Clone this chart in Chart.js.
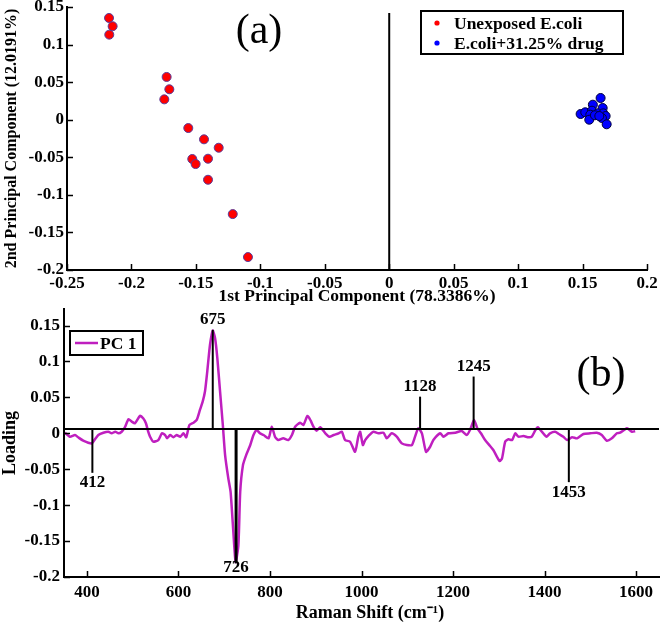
<!DOCTYPE html>
<html><head><meta charset="utf-8">
<script src="https://cdn.jsdelivr.net/npm/chart.js@4"></script>
<style>
html,body{margin:0;padding:0;background:#fff;width:661px;height:625px;overflow:hidden}
canvas{position:absolute;left:0}
#ca{top:0}
#cb{top:300px}
</style></head><body>
<canvas id="ca" width="661" height="305"></canvas>
<canvas id="cb" width="661" height="325"></canvas>
<script>
// ---------- data: panel (a) PCA scores ----------
const seriesNames = ['Unexposed E.coli', 'E.coli+31.25% drug'];
const unexposedPC1 = [-0.2174, -0.2146, -0.2172, -0.1727, -0.1706, -0.1745, -0.1559, -0.1437, -0.1323, -0.1528, -0.1406, -0.1502, -0.1406, -0.1214, -0.1096];
const unexposedPC2 = [0.1354, 0.1244, 0.1132, 0.0569, 0.0405, 0.0271, -0.0111, -0.0261, -0.0373, -0.0523, -0.0519, -0.0590, -0.0799, -0.1256, -0.1828];
const drugPC1 = [0.1640, 0.1580, 0.1656, 0.1485, 0.1521, 0.1573, 0.1560, 0.1617, 0.1661, 0.1679, 0.1650, 0.1552, 0.1687, 0.1596, 0.1630];
const drugPC2 = [0.0289, 0.0200, 0.0156, 0.0076, 0.0099, 0.0120, 0.0067, 0.0085, 0.0085, 0.0049, 0.0023, 0.0000, -0.0061, 0.0059, 0.0049];
const pcaXTicks = [-0.25, -0.2, -0.15, -0.1, -0.05, 0, 0.05, 0.1, 0.15, 0.2];
const pcaYTicks = [-0.2, -0.15, -0.1, -0.05, 0, 0.05, 0.1, 0.15];

// ---------- data: panel (b) PC1 loading ----------
const loadingName = 'PC 1';
const ramanShift = [352,363,374,381,392,403,411,418,425,436,447,454,462,469,476,483,491,498,505,516,523,529,534,538,545,556,564,571,575,582,589,596,604,611,617,624,633,640,647,653,658,663,669,675,680,685,691,697,702,709,714,720,725,731,735,741,748,757,764,771,778,786,797,804,811,818,829,840,848,855,866,873,882,889,895,902,910,921,930,939,950,957,964,975,986,993,997,1003,1008,1015,1026,1037,1048,1055,1066,1077,1088,1099,1110,1117,1124,1132,1141,1150,1157,1172,1179,1190,1205,1219,1230,1237,1246,1253,1261,1270,1281,1288,1296,1302,1307,1314,1321,1329,1336,1343,1354,1365,1372,1380,1385,1394,1404,1412,1423,1431,1441,1449,1460,1471,1485,1500,1514,1525,1536,1547,1558,1565,1580,1591,1598];
const pc1Loading = [0.0008,-0.0047,-0.0024,-0.0056,-0.0103,-0.0131,-0.0140,-0.0080,-0.0024,0.0008,0.0022,0.0000,0.0022,0.0000,0.0022,0.0084,0.0196,0.0162,0.0140,0.0242,0.0210,0.0140,0.0022,-0.0047,-0.0117,-0.0094,0.0000,-0.0024,-0.0070,-0.0024,-0.0056,-0.0024,-0.0047,0.0000,-0.0056,0.0116,0.0148,0.0186,0.0325,0.0441,0.0581,0.0860,0.1233,0.1429,0.1327,0.1047,0.0581,0.0116,-0.0303,-0.0628,-0.0816,-0.1374,-0.1793,-0.1560,-0.0816,-0.0443,-0.0303,-0.0163,-0.0024,0.0046,0.0000,-0.0024,-0.0070,0.0092,-0.0047,-0.0094,-0.0070,-0.0094,-0.0024,0.0092,0.0148,0.0116,0.0242,0.0176,0.0092,0.0036,0.0084,0.0000,-0.0047,-0.0024,0.0000,0.0022,-0.0094,-0.0117,-0.0257,-0.0047,0.0022,-0.0163,-0.0094,-0.0038,0.0022,0.0000,0.0008,-0.0070,0.0000,-0.0047,-0.0140,-0.0163,-0.0163,-0.0047,0.0070,0.0000,-0.0257,-0.0187,-0.0094,0.0000,-0.0047,0.0000,0.0008,0.0032,-0.0024,0.0046,0.0186,0.0070,0.0000,-0.0094,-0.0177,-0.0233,-0.0327,-0.0387,-0.0349,-0.0117,-0.0084,-0.0094,0.0000,-0.0047,-0.0038,-0.0056,-0.0047,0.0046,0.0084,0.0022,-0.0047,0.0000,0.0022,-0.0010,-0.0047,-0.0094,-0.0056,-0.0070,-0.0010,0.0000,0.0008,-0.0024,-0.0103,-0.0070,0.0000,0.0008,0.0070,0.0022,0.0030];
const loadingXTicks = [400, 600, 800, 1000, 1200, 1400, 1600];
const loadingYTicks = [-0.2, -0.15, -0.1, -0.05, 0, 0.05, 0.1, 0.15];
const peakShifts = [412, 675, 726, 1128, 1245, 1453];
const peakLineEnds = [-0.055, 0.144, -0.181, 0.051, 0.079, -0.068];
const loadingBaseline = 0.006;

// ---------- common ----------
const SERIF = "'Liberation Serif', 'Times New Roman', serif";
Chart.defaults.font.family = SERIF;
Chart.defaults.color = '#000';
const MAGENTA = '#bf1fbf';
const fmt = v => String(+(+v).toFixed(2));

function makeTicks(arr) { return s => { s.ticks = arr.map(v => ({value: v})); }; }

const inwardTicks = {
  id: 'inwardTicks',
  afterDraw(chart) {
    const {ctx, chartArea: a, scales: {x, y}} = chart;
    ctx.save();
    ctx.strokeStyle = '#000'; ctx.lineWidth = 1.5;
    ctx.beginPath();
    x.ticks.forEach(t => { const p = Math.round(x.getPixelForValue(t.value)) + 0.5; ctx.moveTo(p, a.bottom); ctx.lineTo(p, a.bottom - 6); });
    y.ticks.forEach(t => { const p = Math.round(y.getPixelForValue(t.value)) + 0.5; ctx.moveTo(a.left, p); ctx.lineTo(a.left + 6, p); });
    ctx.stroke();
    ctx.restore();
  }
};

function axisCommon(tickArr, fitFn) {
  return {
    afterBuildTicks: makeTicks(tickArr),
    grid: {display: false, drawTicks: false},
    border: {display: true, color: '#000', width: 2},
    ticks: {font: {size: 17, weight: 'bold'}, color: '#000', autoSkip: false, maxRotation: 0, minRotation: 0, callback: fmt},
    afterFit: fitFn
  };
}

// ---------- panel (a) ----------
const panelA = {
  id: 'panelA',
  beforeDatasetsDraw(chart) {
    const {ctx, chartArea: a, scales: {x, y}} = chart;
    const px = x.getPixelForValue(0);
    ctx.save();
    ctx.strokeStyle = '#000'; ctx.lineWidth = 2;
    ctx.beginPath(); ctx.moveTo(px, y.getPixelForValue(0.142)); ctx.lineTo(px, a.bottom); ctx.stroke();
    ctx.restore();
  },
  afterDraw(chart) {
    const ctx = chart.ctx;
    ctx.save();
    ctx.font = '42px ' + SERIF; ctx.fillStyle = '#000';
    ctx.textAlign = 'center'; ctx.textBaseline = 'middle';
    ctx.fillText('(a)', 259, 32);
    ctx.fillStyle = '#fff'; ctx.fillRect(421, 11, 202, 43);
    ctx.strokeStyle = '#000'; ctx.lineWidth = 2; ctx.strokeRect(421, 11, 202, 43);
    const ds = chart.data.datasets;
    [23, 43].forEach((yy, i) => {
      ctx.beginPath(); ctx.arc(437, yy, 2.6, 0, Math.PI * 2);
      ctx.fillStyle = ds[i].backgroundColor; ctx.fill();
      ctx.fillStyle = '#000'; ctx.font = 'bold 17.5px ' + SERIF;
      ctx.textAlign = 'left'; ctx.textBaseline = 'middle';
      ctx.fillText(ds[i].label, 454, yy + 1);
    });
    ctx.restore();
  }
};

new Chart(document.getElementById('ca'), {
  type: 'scatter',
  data: {
    datasets: [
      {label: seriesNames[0], data: unexposedPC1.map((v, i) => ({x: v, y: unexposedPC2[i]})), backgroundColor: '#ff0000', borderColor: '#5a3c9a', borderWidth: 1, pointRadius: 4.5, pointHoverRadius: 4.5},
      {label: seriesNames[1], data: drugPC1.map((v, i) => ({x: v, y: drugPC2[i]})), backgroundColor: '#0000ff', borderColor: '#00003a', borderWidth: 1, pointRadius: 4.5, pointHoverRadius: 4.5}
    ]
  },
  options: {
    responsive: false, animation: false,
    layout: {padding: {top: 7, right: 14, left: 0, bottom: 0}},
    plugins: {legend: {display: false}, tooltip: {enabled: false}},
    scales: {
      x: Object.assign(axisCommon(pcaXTicks, s => { s.height = 35; s.paddingLeft = 0; s.paddingRight = 0; }), {
        type: 'linear', min: -0.25, max: 0.2,
        title: {display: true, text: '1st Principal Component (78.3386%)', font: {size: 17.5, weight: 'bold', lineHeight: 1}, padding: {top: 0, bottom: 0}, color: '#000'}
      }),
      y: Object.assign(axisCommon(pcaYTicks, s => { s.width = 67; s.paddingTop = 0; s.paddingBottom = 0; }), {
        type: 'linear', min: -0.2, max: 0.15,
        title: {display: true, text: '2nd Principal Component (12.0191%)', font: {size: 16, weight: 'bold', lineHeight: 1}, padding: {top: 4, bottom: 0}, color: '#000'}
      })
    }
  },
  plugins: [panelA, inwardTicks]
});

// ---------- panel (b) ----------
const panelB = {
  id: 'panelB',
  afterDatasetsDraw(chart) {
    const {ctx, chartArea: a, scales: {x, y}} = chart;
    ctx.save();
    ctx.strokeStyle = '#000'; ctx.lineWidth = 2;
    const y0 = y.getPixelForValue(loadingBaseline);
    ctx.beginPath(); ctx.moveTo(a.left, y0); ctx.lineTo(a.right, y0); ctx.stroke();
    ctx.font = 'bold 17px ' + SERIF; ctx.fillStyle = '#000';
    ctx.textAlign = 'center'; ctx.textBaseline = 'middle';
    peakShifts.forEach((s, i) => {
      const px = x.getPixelForValue(s);
      const pe = y.getPixelForValue(peakLineEnds[i]);
      ctx.lineWidth = (i === 2) ? 3 : 2;
      ctx.beginPath(); ctx.moveTo(px, y0); ctx.lineTo(px, pe); ctx.stroke();
      let ly = peakLineEnds[i] > 0 ? pe - 10 : Math.min(pe + 10, a.bottom - 9);
      ctx.fillText(String(s), px, ly);
    });
    ctx.restore();
  },
  afterDraw(chart) {
    const ctx = chart.ctx;
    ctx.save();
    ctx.font = '42px ' + SERIF; ctx.fillStyle = '#000';
    ctx.textAlign = 'center'; ctx.textBaseline = 'middle';
    ctx.fillText('(b)', 601, 75);
    // x-axis title (drawn slightly right of centre, as in the original)
    ctx.font = 'bold 18px ' + SERIF;
    ctx.fillText('Raman Shift (cm\u207B\u00B9)', 370, 313);
    ctx.fillStyle = '#fff'; ctx.fillRect(70, 31, 73, 24);
    ctx.strokeStyle = '#000'; ctx.lineWidth = 2; ctx.strokeRect(70, 31, 73, 24);
    const ds = chart.data.datasets[0];
    ctx.strokeStyle = ds.borderColor; ctx.lineWidth = 2.5;
    ctx.beginPath(); ctx.moveTo(75, 43); ctx.lineTo(98, 43); ctx.stroke();
    ctx.fillStyle = '#000'; ctx.font = 'bold 17.5px ' + SERIF;
    ctx.textAlign = 'left'; ctx.textBaseline = 'middle';
    ctx.fillText(ds.label, 100, 44);
    ctx.restore();
  }
};

new Chart(document.getElementById('cb'), {
  type: 'line',
  data: {
    datasets: [
      {label: loadingName, data: ramanShift.map((v, i) => ({x: v, y: pc1Loading[i]})), borderColor: MAGENTA, backgroundColor: MAGENTA, borderWidth: 2.5, pointRadius: 0, pointHoverRadius: 0, tension: 0.2, fill: false}
    ]
  },
  options: {
    responsive: false, animation: false,
    layout: {padding: {top: 9, right: 2, left: 0, bottom: 0}},
    plugins: {legend: {display: false}, tooltip: {enabled: false}},
    scales: {
      x: Object.assign(axisCommon(loadingXTicks, s => { s.height = 48; s.paddingLeft = 0; s.paddingRight = 0; }), {
        type: 'linear', min: 350, max: 1650,
        ticks: {font: {size: 17, weight: 'bold'}, color: '#000', autoSkip: false, maxRotation: 0, minRotation: 0, padding: 5, callback: fmt},
        title: {display: false}
      }),
      y: Object.assign(axisCommon(loadingYTicks, s => { s.width = 64; s.paddingTop = 0; s.paddingBottom = 0; }), {
        type: 'linear', min: -0.2, max: 0.173,
        ticks: {font: {size: 17, weight: 'bold'}, color: '#000', autoSkip: false, padding: 4, callback: fmt},
        title: {display: true, text: 'Loading', font: {size: 18, weight: 'bold', lineHeight: 1}, padding: {top: 1, bottom: 0}, color: '#000'}
      })
    }
  },
  plugins: [panelB, inwardTicks]
});
</script>
</body></html>
